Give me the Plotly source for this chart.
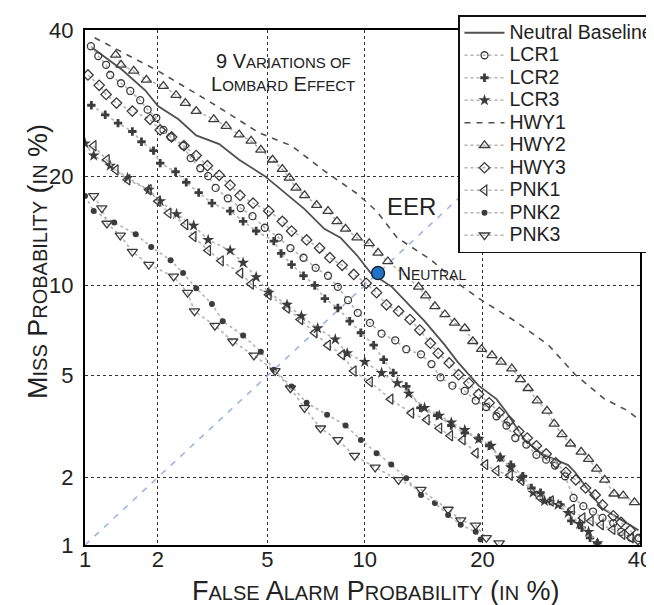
import plotly.graph_objects as go
from statistics import NormalDist

ND = NormalDist()


def probit(vals):
    return [ND.inv_cdf(v / 100.0) for v in vals]


# ---------------- data (percent) ----------------
tick_vals = [1, 2, 5, 10, 20, 40]
tick_text = ["1", "2", "5", "10", "20", "40"]

neutral_x = [1.07, 1.43, 1.78, 2.0, 2.4, 2.8, 3.4, 4.0, 4.9, 6.6, 7.6, 8.5, 9.5, 10.4, 11.9, 13.2, 14.5, 16.3,
             17.5, 19.6, 21.5, 22.5, 24.7, 26.8, 30.1, 31.0, 32.8, 34.6, 37.4, 39.8]
neutral_y = [37.3, 34.0, 31.0, 28.8, 27.0, 24.9, 23.8, 21.9, 20.0, 16.5, 14.6, 13.8, 12.3, 10.9, 9.9, 8.7, 7.7, 6.4,
             5.6, 4.6, 4.1, 3.7, 2.85, 2.5, 2.25, 2.1, 1.75, 1.47, 1.3, 1.17]

lcr1_x = [1.06, 1.14, 1.23, 1.28, 1.42, 1.55, 1.7, 1.82, 1.97, 2.1, 2.24, 2.5, 2.67, 2.9, 3.1, 3.3, 3.65, 4.05,
          4.45, 4.9, 5.45, 5.95, 6.55, 7.15, 7.8, 8.35, 8.95, 9.55, 10.35, 11.15, 12.15, 13.0, 14.2, 15.1, 15.9,
          17.0, 18.2, 19.3, 20.4, 21.5, 22.6, 23.6, 24.9, 26.1, 27.3, 28.4, 29.7, 30.8, 32.1, 33.4, 34.7, 36.2,
          37.3, 38.7, 39.8]
lcr1_y = [37.5, 36.0, 34.7, 33.2, 32.0, 30.9, 29.6, 28.3, 27.2, 25.6, 24.7, 23.6, 22.1, 20.9, 20.0, 18.7, 17.6, 16.6,
          15.8, 14.7, 13.8, 12.9, 12.1, 11.3, 10.7, 9.9, 9.0, 8.2, 7.6, 7.0, 6.65, 6.2, 5.95, 5.5, 4.93,
          4.6, 4.4, 4.05, 3.83, 3.53, 3.25, 2.9, 2.73, 2.48, 2.37, 2.24, 2.02, 1.63, 1.5, 1.42, 1.33, 1.26,
          1.15, 1.08, 1.08]

lcr2_x = [1.065, 1.22, 1.38, 1.58, 1.72, 1.92, 2.04, 2.34, 2.57, 2.86, 3.2, 3.72, 4.13, 4.58, 5.25, 5.55, 6.0, 6.55,
          7.1, 7.63, 8.35, 9.05, 9.75, 10.6, 11.3, 12.0, 13.0, 14.15, 15.6, 16.9, 18.2, 19.6, 20.7, 21.9, 23.1,
          24.5, 25.5, 26.6, 27.8, 29.1, 30.5, 31.9, 33.0, 34.0]
lcr2_y = [28.9, 27.6, 26.5, 25.4, 24.1, 23.0, 21.5, 20.5, 19.3, 18.2, 17.1, 16.3, 15.3, 14.4, 13.5, 12.45, 11.55, 10.7,
          10.0, 9.1, 8.5, 7.7, 7.05, 6.4, 5.7, 5.12, 4.57, 3.8, 3.55, 3.25, 3.04, 2.9, 2.7, 2.42, 2.26,
          2.02, 1.8, 1.72, 1.58, 1.52, 1.29, 1.2, 1.08, 1.02]

lcr3_x = [1.0, 1.09, 1.28, 1.51, 1.84, 2.04, 2.36, 2.74, 3.1, 3.72, 4.13, 4.58, 5.05, 5.8, 6.45, 7.25, 8.2, 8.9,
          10.0, 11.15, 12.3, 13.2, 14.5, 15.8, 16.9, 18.2, 19.6, 20.9, 21.9, 23.1, 24.3, 25.7, 27.1, 28.8, 30.1,
          31.6, 32.8, 34.0]
lcr3_y = [23.9, 22.4, 21.2, 19.8, 18.5, 17.3, 16.0, 14.9, 13.6, 12.7, 11.7, 10.6, 9.5, 8.7, 8.0, 7.3, 6.7, 6.0,
          5.6, 5.12, 4.7, 4.3, 3.8, 3.55, 3.34, 3.12, 2.87, 2.7, 2.42, 2.2, 1.98, 1.72, 1.58, 1.52, 1.4,
          1.25, 1.15, 1.02]

hwy1_x = [1.1, 2.0, 3.2, 4.7, 6.0, 7.6, 9.5, 10.8, 12.3, 15.1, 17.8, 19.9, 23.6, 27.6, 31.0, 35.0, 38.3, 40.0]
hwy1_y = [38.8, 33.8, 29.2, 25.2, 23.6, 20.6, 18.1, 16.3, 13.8, 11.9, 10.0, 9.0, 7.7, 6.4, 5.05, 4.1, 3.7, 3.4]

hwy2_x = [1.35, 1.42, 1.6, 1.8, 2.1, 2.35, 2.55, 2.8, 3.25, 3.6, 4.0, 4.4, 4.75, 5.2, 5.6, 5.9, 6.2, 6.6, 7.2,
          7.8, 8.3, 8.8, 9.5, 10.3, 10.9, 11.6, 14.0, 14.6, 15.4, 16.3, 17.2, 18.2, 19.0, 19.9, 21.0, 22.0,
          23.2, 24.2, 25.1, 26.2, 27.4, 28.3, 29.3, 30.4, 31.8, 32.8, 33.9, 35.0, 36.3, 37.6, 39.2]
hwy2_y = [36.2, 34.7, 33.8, 32.5, 31.6, 30.3, 29.2, 28.1, 27.0, 26.1, 25.0, 24.2, 23.1, 21.9, 20.8, 19.8, 18.7, 17.9,
          16.9, 16.3, 15.3, 14.6, 13.8, 13.3, 12.5, 11.8, 9.9, 9.3, 8.6, 8.1, 7.6, 7.3, 6.6, 6.2, 5.9, 5.6,
          5.3, 4.85, 4.5, 4.05, 3.7, 3.3, 3.0, 2.75, 2.55, 2.38, 2.17, 1.95, 1.7, 1.67, 1.56]

hwy3_x = [1.03, 1.15, 1.23, 1.36, 1.58, 1.86, 2.04, 2.26, 2.52, 2.8, 3.08, 3.4, 3.72, 4.03, 4.47, 5.05, 5.6, 6.0,
          6.7, 7.35, 7.9, 8.6, 9.3, 10.1, 10.8, 11.5, 12.4, 13.3, 14.1, 15.0, 15.7, 16.7, 17.6, 18.6, 19.6,
          20.7, 21.8, 22.9, 24.0, 25.0, 26.1, 27.3, 28.5, 29.8, 31.1, 32.4, 33.7, 34.7, 36.2, 37.3, 38.6, 39.7]
hwy3_y = [33.2, 31.7, 30.4, 29.2, 28.1, 27.0, 25.6, 24.7, 23.6, 22.4, 21.2, 20.1, 19.0, 17.9, 17.1, 16.3, 15.3, 14.4,
          13.6, 12.9, 12.1, 11.5, 10.8, 10.15, 9.5, 8.7, 8.3, 7.8, 7.2, 6.5, 6.0, 5.55, 5.04, 4.7, 4.28,
          3.97, 3.65, 3.38, 3.08, 2.9, 2.7, 2.5, 2.3, 2.1, 1.95, 1.8, 1.68, 1.52, 1.36, 1.27, 1.17, 1.06]

pnk1_x = [1.09, 1.24, 1.35, 1.51, 1.84, 2.0, 2.2, 2.55, 2.74, 3.1, 3.45, 4.04, 4.4, 5.05, 5.8, 6.4, 7.1, 7.8,
          8.6, 9.3, 10.35, 11.8, 13.4, 14.7, 15.8, 16.8, 18.0, 19.3, 20.3, 21.5, 23.0, 24.3, 26.6, 27.9, 30.6,
          32.0, 33.1, 34.5, 36.1, 37.5, 38.7]
pnk1_y = [23.6, 21.9, 20.7, 19.6, 18.5, 17.3, 16.1, 15.0, 13.9, 12.7, 11.85, 10.9, 10.1, 9.35, 8.5, 7.8, 7.05, 6.4,
          5.93, 5.2, 4.75, 4.1, 3.63, 3.42, 3.17, 2.96, 2.85, 2.52, 2.26, 2.13, 2.04, 1.94, 1.63, 1.58, 1.45,
          1.33, 1.29, 1.24, 1.18, 1.12, 1.08]

pnk2_x = [1.0, 1.09, 1.33, 1.63, 1.88, 2.24, 2.5, 2.8, 3.2, 3.5, 4.13, 4.75, 5.25, 6.0, 6.7, 7.75, 8.8, 9.75,
          10.8, 11.85, 13.0, 14.2, 15.4, 16.6, 17.8, 19.3, 19.8]
pnk2_y = [17.85, 16.3, 15.2, 14.1, 13.0, 11.9, 10.9, 9.8, 8.75, 7.7, 6.9, 6.07, 5.25, 4.57, 3.97, 3.58, 3.25, 2.85,
          2.52, 2.26, 1.98, 1.68, 1.55, 1.37, 1.24, 1.15, 1.06]

pnk3_x = [1.09, 1.18, 1.24, 1.41, 1.58, 1.84, 2.3, 2.6, 2.76, 3.28, 3.8, 4.5, 5.3, 5.95, 6.6, 7.4, 8.35, 9.35,
          10.7, 12.4, 14.2, 16.6, 17.8, 19.3, 20.4, 21.8]
pnk3_y = [17.85, 16.6, 15.1, 14.0, 12.6, 11.55, 10.65, 9.5, 8.3, 7.45, 6.6, 5.9, 5.2, 4.5, 3.8, 3.17, 2.85, 2.46,
          2.2, 1.95, 1.77, 1.45, 1.3, 1.23, 1.08, 1.02]

eer_x = [1, 40]
eer_y = [1, 40]
neutral_point_x = [10.9]
neutral_point_y = [10.9]

# ---------------- styling ----------------
MK = "#3c3c3c"
DOT_LINE = "#b4b4b4"
LEG_FONT = 19.5


def lname(s):
    return '<span style="font-size:%.1fpx">%s</span>' % (LEG_FONT, s)


def sc(big, small, bs, ss):
    return big + '<span style="font-size:%dpx">%s</span>' % (ss, small)


fig = go.Figure()

fig.add_trace(go.Scatter(x=probit(eer_x), y=probit(eer_y), mode="lines", showlegend=False,
                         line=dict(color="#9bb6e2", width=1.6, dash="6px,7px"), hoverinfo="skip"))

fig.add_trace(go.Scatter(x=probit(neutral_x), y=probit(neutral_y), mode="lines", name=lname("Neutral Baseline"),
                         line=dict(color="#505050", width=1.8)))


def marker_series(xs, ys, name, symbol, size, filled=False):
    fig.add_trace(go.Scatter(
        x=probit(xs), y=probit(ys), mode="lines+markers", name=lname(name),
        line=dict(color=DOT_LINE, width=1.6, dash="dot"),
        marker=dict(symbol=symbol, size=size, color=MK,
                    line=dict(color=MK, width=1.3 if not filled else 0)),
    ))


marker_series(lcr1_x, lcr1_y, "LCR1", "circle-open", 7)
marker_series(lcr2_x, lcr2_y, "LCR2", "cross", 7, filled=True)
marker_series(lcr3_x, lcr3_y, "LCR3", "star", 9, filled=True)
fig.add_trace(go.Scatter(x=probit(hwy1_x), y=probit(hwy1_y), mode="lines", name=lname("HWY1"),
                         line=dict(color="#505050", width=1.6, dash="6px,6px")))
marker_series(hwy2_x, hwy2_y, "HWY2", "triangle-up-open", 9)
marker_series(hwy3_x, hwy3_y, "HWY3", "diamond-open", 8)
marker_series(pnk1_x, pnk1_y, "PNK1", "triangle-left-open", 9)
marker_series(pnk2_x, pnk2_y, "PNK2", "circle", 6, filled=True)
marker_series(pnk3_x, pnk3_y, "PNK3", "triangle-down-open", 9)

fig.add_trace(go.Scatter(x=probit(neutral_point_x), y=probit(neutral_point_y), mode="markers", showlegend=False,
                         marker=dict(symbol="circle", size=13, color="#1f72c6",
                                     line=dict(color="#1a2a3a", width=1.5))))

# ---------------- axes ----------------
L, R, T, B = 77, 22, 22, 68
W, H = 654, 605
pw, ph = W - L - R, H - T - B


def px(xp):
    return (xp - L) / pw


def py(yp):
    return (H - B - yp) / ph


axis_common = dict(
    tickvals=probit(tick_vals), ticktext=tick_text,
    range=probit([1, 40]),
    showgrid=True, gridcolor="#333333", griddash="dot", gridwidth=1,
    showline=True, linecolor="black", linewidth=2, mirror=True,
    ticks="", zeroline=False,
    tickfont=dict(size=22, color="#222222", family="Liberation Sans, Arial, sans-serif"),
)
fig.update_xaxes(**axis_common, ticklabelstandoff=-6)
fig.update_yaxes(**axis_common, ticklabelstandoff=5)

ann_font = dict(family="Liberation Sans, Arial, sans-serif", color="#222222")
BIG, SMALL = 27, 20
xtitle = (sc("F", "ALSE", BIG, SMALL) + " " + sc("A", "LARM", BIG, SMALL) + " " +
          sc("P", "ROBABILITY", BIG, SMALL) + ' (<span style="font-size:%dpx">IN</span> %%)' % SMALL)
ytitle = (sc("M", "ISS", BIG, SMALL) + " " + sc("P", "ROBABILITY", BIG, SMALL) +
          ' (<span style="font-size:%dpx">IN</span> %%)' % SMALL)

annotations = [
    dict(text=xtitle, x=px(368), y=py(583), xref="paper", yref="paper", showarrow=False,
         font=dict(size=BIG, **ann_font), xanchor="center", yanchor="middle"),
    dict(text=ytitle, x=px(30), y=py(254), xref="paper", yref="paper", showarrow=False, textangle=-90,
         font=dict(size=BIG, **ann_font), xanchor="center", yanchor="middle"),
    dict(text=sc("9 V", "ARIATIONS OF", 20, 15), x=px(275), y=py(53), xref="paper", yref="paper",
         showarrow=False, font=dict(size=20, **ann_font), xanchor="center", yanchor="middle"),
    dict(text=sc("L", "OMBARD", 20, 15) + " " + sc("E", "FFECT", 20, 15), x=px(275), y=py(76), xref="paper",
         yref="paper", showarrow=False, font=dict(size=20, **ann_font), xanchor="center", yanchor="middle"),
    dict(text="EER", x=px(403), y=py(198), xref="paper", yref="paper", showarrow=False,
         font=dict(size=24, **ann_font), xanchor="center", yanchor="middle"),
    dict(text=sc("N", "EUTRAL", 18, 14), x=px(388), y=py(266), xref="paper", yref="paper", showarrow=False,
         font=dict(size=18, **ann_font), xanchor="left", yanchor="middle"),
]

fig.update_layout(
    width=W, height=H,
    margin=dict(l=L, r=R, t=T, b=B, autoexpand=False),
    paper_bgcolor="white", plot_bgcolor="white",
    font=dict(family="Liberation Sans, Arial, sans-serif", color="#222222"),
    annotations=annotations,
    legend=dict(x=px(450), y=py(7), xanchor="left", yanchor="top",
                bgcolor="white", bordercolor="#111111", borderwidth=1.5,
                font=dict(size=15, color="#222222", family="Liberation Sans, Arial, sans-serif"),
                itemwidth=40, tracegroupgap=0),
    showlegend=True,
)

fig.write_html("out.html")
